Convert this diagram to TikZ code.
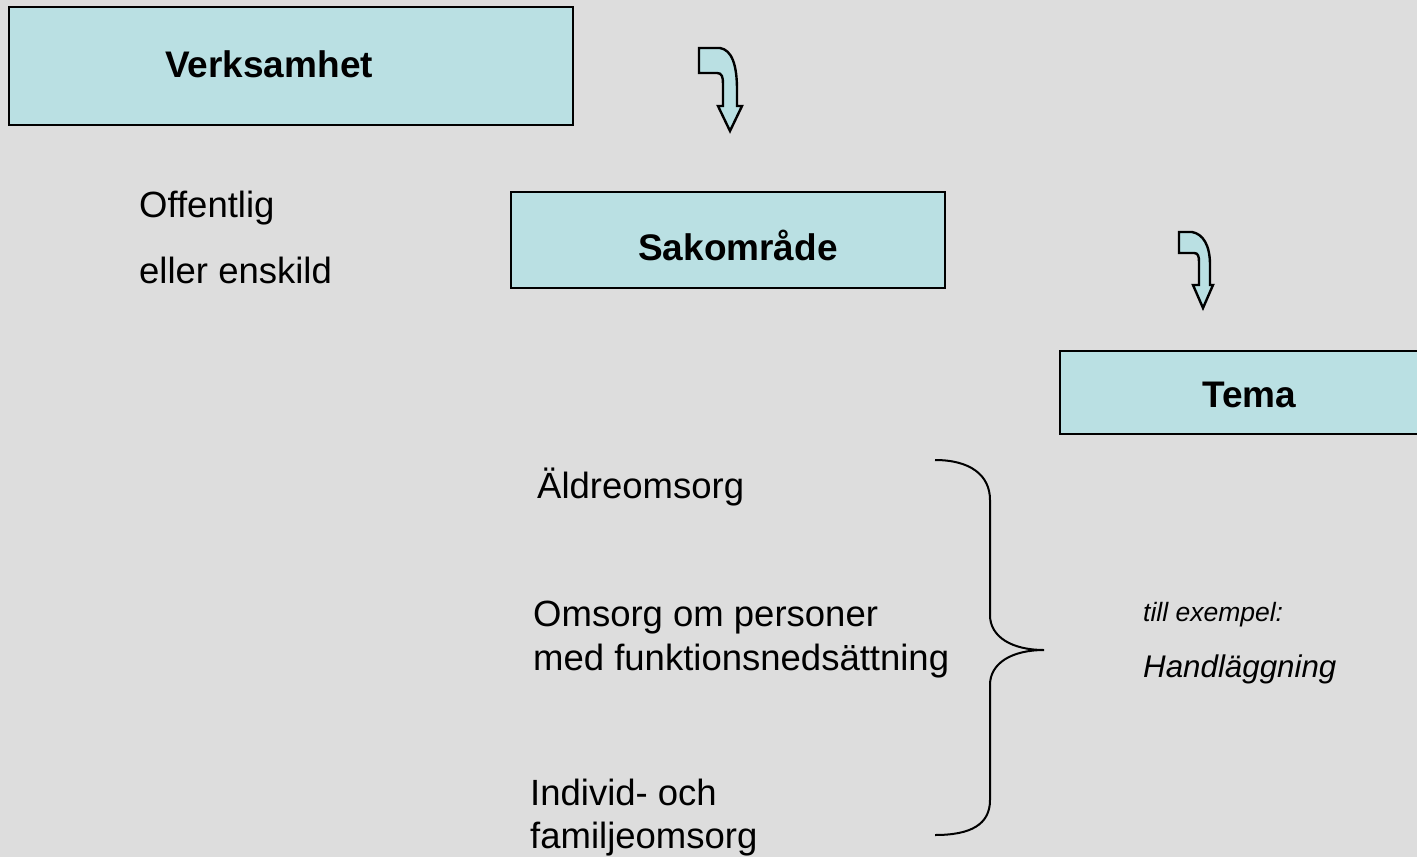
\documentclass[tikz,border=0pt]{standalone}
\usepackage{fontspec}
\setmainfont{Liberation Sans}
\definecolor{bg}{HTML}{DDDDDD}
\definecolor{boxfill}{HTML}{BAE0E3}
\tikzset{
  box/.style={draw=black, line width=2.4pt, fill=boxfill},
  title/.style={anchor=base west, inner sep=0pt, font=\fontsize{37}{44}\selectfont\bfseries},
  body/.style={anchor=base west, inner sep=0pt, font=\fontsize{36.5}{44}\selectfont},
  bent/.style={draw=black, line width=2.4pt, line join=miter, fill=boxfill},
  brace/.style={draw=black, line width=2pt},
}
\begin{document}
\begin{tikzpicture}[x=1pt, y=-1pt]
  \useasboundingbox (0,0) rectangle (1417,857);
  \clip (0,0) rectangle (1417,857);
  \fill[bg] (0,0) rectangle (1417,857);

  % boxes
  \path[box] (9,7) rectangle (573,125);
  \path[box] (511,192) rectangle (945,288);
  \path[box] (1060,351) rectangle (1425,434);

  \node[title] (verks) at (165,77) {Verksamhet};
  \node[title] (sak) at (638,260) {Sakområde};
  \node[title] (tema) at (1202,407) {Tema};

  % bent arrows
  \path[bent] (699,48) -- (720,48) .. controls (732,50) and (737,65) .. (737,90)
    -- (737,106) -- (742,106) -- (730,131) -- (718,106) -- (723,106) -- (723,84)
    .. controls (723,77) and (722,73) .. (717,73) -- (699,73) -- cycle;
  \path[bent] (1179,232) -- (1192,232) .. controls (1203,234) and (1210,245) .. (1210,265)
    -- (1210,285) -- (1213,285) -- (1203,308) -- (1193,285) -- (1199,285) -- (1199,262)
    .. controls (1199,256) and (1198,253) .. (1194,253) -- (1179,253) -- cycle;

  % left texts
  \node[body] (off) at (139,217) {Offentlig};
  \node[body] (ens) at (139,283) {eller enskild};

  % areas
  \node[body] (aldre) at (537,498) {Äldreomsorg};
  \node[body] (oms1) at (533,626) {Omsorg om personer};
  \node[body] (oms2) at (533,670) {med funktionsnedsättning};
  \node[body] (ind1) at (530,805) {Individ- och};
  \node[body] (ind2) at (530,848) {familjeomsorg};

  % brace
  \coordinate (bt) at (935,460);
  \coordinate (btip) at (1044,650);
  \coordinate (bb) at (935,835);
  \path[brace] (bt) .. controls (970,460) and (990,475) .. (990,500) -- (990,615)
    .. controls (990,637) and (1012,650) .. (btip)
    .. controls (1012,650) and (990,663) .. (990,685) -- (990,800)
    .. controls (990,825) and (970,835) .. (bb);

  % example
  \node[anchor=base west, inner sep=0pt, font=\fontsize{26.5}{32}\selectfont\itshape] (ex) at (1143,621) {till exempel:};
  \node[anchor=base west, inner sep=0pt, font=\fontsize{31.3}{38}\selectfont\itshape] (hand) at (1143,677) {Handläggning};
\end{tikzpicture}
\end{document}
